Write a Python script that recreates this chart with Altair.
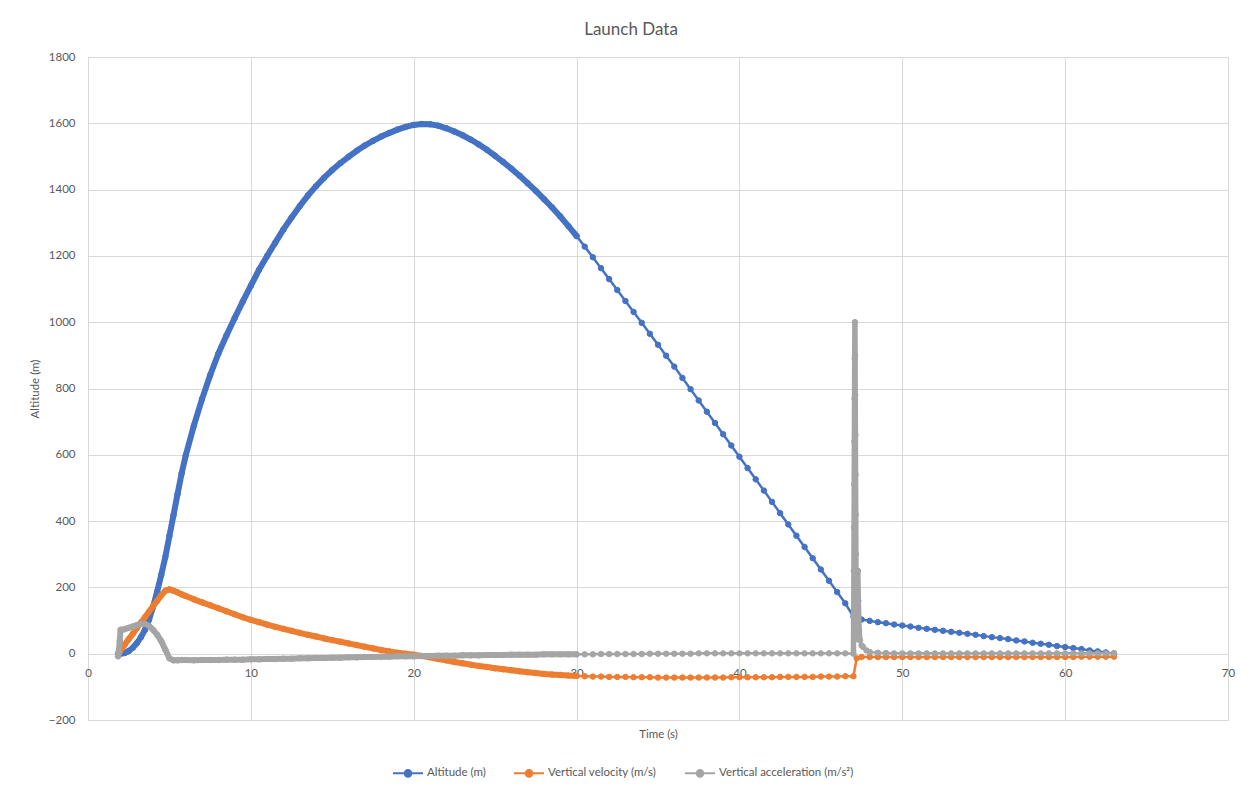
import altair as alt
import pandas as pd

# ---------------- data ----------------
time_s = [
    1.85, 1.9, 1.95, 2.0, 2.25, 2.5, 2.75, 3.0, 3.25, 3.5, 3.75, 4.0, 4.25, 4.5, 4.75, 5.0, 5.25, 5.5, 5.75, 6.0,
    6.5, 7.0, 7.5, 8.0, 8.5, 9.0, 9.5, 10.0, 10.5, 11.0, 11.5, 12.0, 12.5, 13.0, 13.5, 14.0, 14.5, 15.0, 15.5, 16.0,
    16.5, 17.0, 17.5, 18.0, 18.5, 19.0, 19.5, 20.0, 20.5, 21.0, 21.5, 22.0, 22.5, 23.0, 23.5, 24.0, 24.5, 25.0,
    25.5, 26.0, 26.5, 27.0, 27.5, 28.0, 28.5, 29.0, 29.5, 30.0,
    30.5, 31.0, 31.5, 32.0, 32.5, 33.0, 33.5, 34.0, 34.5, 35.0, 35.5, 36.0, 36.5, 37.0, 37.5, 38.0, 38.5, 39.0,
    39.5, 40.0, 40.5, 41.0, 41.5, 42.0, 42.5, 43.0, 43.5, 44.0, 44.5, 45.0, 45.5, 46.0, 46.5,
    47.0, 47.2,
    47.5, 48.0, 48.5, 49.0, 49.5, 50.0, 50.5, 51.0, 51.5, 52.0, 52.5, 53.0, 53.5, 54.0, 54.5, 55.0, 55.5, 56.0,
    56.5, 57.0, 57.5, 58.0, 58.5, 59.0, 59.5, 60.0, 60.5, 61.0, 61.5, 62.0, 62.5, 63.0,
]

altitude_m = [
    0, 0, 0, 0, 2, 8, 18, 32, 50, 72, 103, 142, 188, 238, 292, 355, 418, 482, 544, 598,
    688, 768, 840, 905, 960, 1012, 1062, 1110, 1158, 1200, 1240, 1280, 1316, 1350, 1382, 1410, 1436, 1459, 1480, 1499,
    1517, 1533, 1547, 1560, 1571, 1581, 1589, 1595, 1598, 1597, 1593, 1585, 1575, 1564, 1551, 1536, 1520, 1502,
    1483, 1463, 1442, 1419, 1396, 1371, 1346, 1319, 1290, 1260,
    1228, 1196, 1163, 1130, 1097, 1064, 1031, 998, 965, 932, 899, 866, 832, 798, 764, 730, 696, 662,
    628, 594, 560, 526, 492, 458, 424, 390, 356, 322, 288, 254, 220, 186, 152,
    112, 106,
    103, 99, 95, 92, 88, 85, 82, 78, 75, 72, 69, 66, 63, 60, 57, 53, 50, 47,
    44, 40, 37, 33, 30, 27, 23, 20, 17, 14, 10, 7, 4, 1,
]

velocity_ms = [
    0, 3, 7, 10, 27, 44, 60, 77, 94, 110, 127, 144, 160, 176, 190, 194, 190, 185, 179, 174,
    164, 155, 146, 137, 128, 119, 110, 102, 95, 88, 81, 75, 69, 63, 57, 52, 46, 41, 36, 31,
    26, 21, 16, 11, 7, 3, 0, -3, -7, -11, -16, -20, -25, -29, -33, -37, -40, -44,
    -47, -50, -53, -56, -58, -61, -63, -64, -66, -67,
    -68, -69, -69, -70, -70, -70, -71, -71, -71, -72, -72, -72, -72, -72, -72, -72, -72, -72,
    -71, -71, -71, -71, -71, -71, -70, -70, -70, -70, -70, -69, -69, -69, -68,
    -68, -14,
    -10, -10, -10, -10, -10, -10, -10, -10, -10, -10, -10, -10, -10, -10, -10, -10, -10, -10,
    -10, -10, -10, -10, -10, -10, -10, -10, -10, -9, -9, -9, -9, -9,
]

acceleration_ms2 = [
    -8, 10, 40, 72, 74, 78, 82, 86, 90, 90, 84, 72, 57, 38, 12, -14, -20, -20, -19, -19,
    -20, -19, -19, -19, -18, -18, -18, -17, -17, -16, -16, -15, -15, -14, -14, -13, -13, -12, -12, -11,
    -11, -10, -10, -9, -9, -8, -8, -8, -7, -7, -6, -6, -6, -5, -5, -5, -4, -4,
    -4, -3, -3, -3, -3, -2, -2, -2, -2, -2,
    -2, -2, -1, -1, -1, -1, -1, -1, 0, 0, 0, 0, 0, 0, 1, 1, 1, 1,
    1, 1, 1, 1, 1, 1, 1, 1, 1, 1, 1, 1, 1, 1, 1,
    0, 45,
    25, 5, 3, 2, 1, 1, 1, 1, 1, 1, 1, 1, 1, 1, 1, 1, 1, 1,
    1, 1, 1, 1, 1, 1, 1, 1, 1, 1, 1, 1, 1, 1,
]

# extra high-rate acceleration samples around the deployment spike
spike_time_s = [47.02, 47.03, 47.04, 47.05, 47.06, 47.07, 47.08, 47.09, 47.10, 47.11, 47.12, 47.13,
                47.14, 47.15, 47.16, 47.17, 47.18, 47.19, 47.24, 47.27, 47.30, 47.35, 47.40, 47.60, 47.80]
spike_acceleration = [120, 250, 380, 510, 640, 770, 890, 1000, 900, 780, 660, 540,
                      420, 300, 200, 130, 90, 60, 120, 250, 160, 70, 40, 20, 10]

series_names = ["Altitude (m)", "Vertical velocity (m/s)", "Vertical acceleration (m/s²)"]
series_colors = ["#4472C4", "#ED7D31", "#A5A5A5"]
x_ticks = [0, 10, 20, 30, 40, 50, 60, 70]
y_ticks = [-200, 0, 200, 400, 600, 800, 1000, 1200, 1400, 1600, 1800]

assert len(time_s) == len(altitude_m) == len(velocity_ms) == len(acceleration_ms2)
assert len(spike_time_s) == len(spike_acceleration)


def frame(name, ts, vs):
    pts = sorted(zip(ts, vs), key=lambda p: p[0])
    return pd.DataFrame({
        "t": [p[0] for p in pts],
        "v": [p[1] for p in pts],
        "series": name,
        "i": list(range(len(pts))),
    })


frames = [
    frame(series_names[0], time_s, altitude_m),
    frame(series_names[1], time_s, velocity_ms),
    frame(series_names[2], time_s + spike_time_s, acceleration_ms2 + spike_acceleration),
]

FONT = "Lato"
TXT = "#595959"
GRID = "#D9D9D9"

color_scale = alt.Scale(domain=series_names, range=series_colors)

x_enc = alt.X(
    "t:Q",
    title="Time (s)",
    scale=alt.Scale(domain=[0, 70], nice=False, zero=False),
    axis=alt.Axis(
        values=x_ticks, format="d", grid=True, gridColor=GRID, gridWidth=1,
        domain=False, ticks=False, labelPadding=-53, labelBaseline="top",
        labelFlush=False, labelFont=FONT, labelFontSize=11.5, labelColor=TXT,
        titleFont=FONT, titleFontSize=11.5, titleColor=TXT, titleFontWeight="normal",
        titleY=14, titleBaseline="middle",
    ),
)
y_enc = alt.Y(
    "v:Q",
    title="Altitude (m)",
    scale=alt.Scale(domain=[-200, 1800], nice=False, zero=False),
    axis=alt.Axis(
        values=y_ticks, format="d", grid=True, gridColor=GRID, gridWidth=1,
        domain=False, ticks=False, labelPadding=13, labelFlush=False,
        labelFont=FONT, labelFontSize=11.5, labelColor=TXT,
        titleFont=FONT, titleFontSize=11.5, titleColor=TXT, titleFontWeight="normal",
        titleX=-53, titleY=331.5, titleAlign="center", titleBaseline="middle",
    ),
)
order_enc = alt.Order("i:Q")

legend = alt.Legend(
    title=None, orient="none", legendX=304, legendY=700, direction="horizontal", columns=3,
    symbolType="M-1,0L1,0M0.22,0A0.22,0.22,0,1,1,-0.22,0A0.22,0.22,0,1,1,0.22,0Z",
    symbolSize=900, symbolStrokeWidth=2, symbolOpacity=1,
    labelFont=FONT, labelFontSize=11.5, labelColor=TXT, labelOffset=3,
    columnPadding=24, padding=0,
)

layers = []
for k, df in enumerate(frames):
    col = series_colors[k]
    base = alt.Chart(df)
    thick = base.transform_filter("datum.t <= 30.01").mark_line(
        color=col, strokeWidth=6, strokeCap="round", strokeJoin="round"
    ).encode(x=x_enc, y=y_enc, order=order_enc)
    thin = base.mark_line(color=col, strokeWidth=2.5, strokeJoin="round").encode(
        x=x_enc, y=y_enc, order=order_enc)
    layers += [thick, thin]
    if k == 2:
        # dense high-rate samples of the spike merge into a solid column
        spike = base.transform_filter("datum.t >= 47.0 && datum.t <= 47.45").mark_line(
            color=col, strokeWidth=5.5, strokeCap="round", strokeJoin="round"
        ).encode(x=x_enc, y=y_enc, order=order_enc)
        layers.append(spike)
    if k == 0:
        pts = base.mark_point(filled=True, size=30, opacity=1, strokeWidth=1).encode(
            x=x_enc, y=y_enc,
            fill=alt.Fill("series:N", scale=color_scale, legend=legend),
            stroke=alt.Stroke("series:N", scale=color_scale, legend=legend),
        )
    else:
        pts = base.mark_point(filled=True, size=30, opacity=1, strokeWidth=1,
                              fill=col, stroke=col).encode(x=x_enc, y=y_enc)
    layers.append(pts)

chart = alt.layer(*layers).properties(
    width=1140,
    height=663,
    title=alt.TitleParams(
        "Launch Data", font=FONT, fontSize=17, color=TXT, fontWeight="normal",
        anchor="middle", frame="group", offset=-1, baseline="alphabetic", dx=-27,
    ),
    autosize=alt.AutoSizeParams(type="none"),
    padding={"left": 80, "top": 49, "right": 12, "bottom": 62},
).configure_view(strokeWidth=0).configure(background="white")

chart.save("out.html", embed_options={"renderer": "svg", "actions": False})
